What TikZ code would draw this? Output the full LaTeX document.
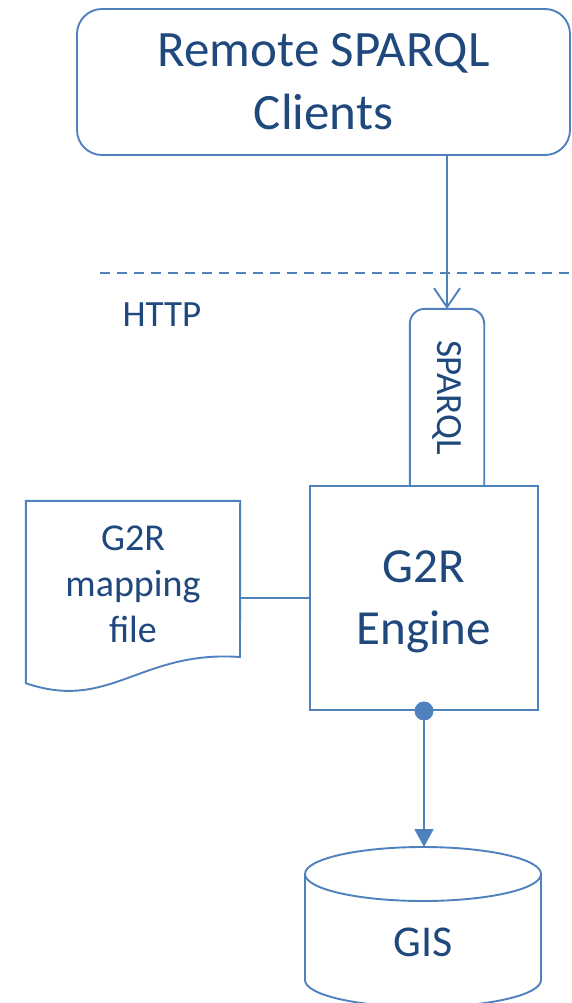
\documentclass[tikz,border=0pt]{standalone}
\usepackage{fontspec}
\setmainfont{Carlito}
\usetikzlibrary{positioning, arrows.meta}
\definecolor{boxline}{HTML}{4F81BD}
\definecolor{boxtext}{HTML}{1F497D}

\begin{document}
\begin{tikzpicture}[
    x=1pt, y=-1pt,
    every node/.style={text=boxtext, inner sep=0pt},
    wire/.style={draw=boxline, line width=1.9pt},
    client/.style={wire, rounded corners=25pt, minimum width=493pt, minimum height=146pt,
        align=center, font=\fontsize{51}{63}\selectfont},
    engine/.style={wire, fill=white, minimum width=228pt, minimum height=224pt,
        align=center, text depth=0pt, font=\fontsize{49}{62}\selectfont},
    small/.style={align=center, font=\fontsize{37}{46}\selectfont}
]
\useasboundingbox (0,0) rectangle (571,1003);

% Clients
\node[client] (clients) at (323.5,82) {Remote SPARQL\\Clients};

% HTTP boundary
\draw[wire, dash pattern=on 10pt off 7pt] (100,273) -- (571,273);
\node[small] (http) at (162,315) {HTTP};

% SPARQL endpoint and engine
\node[minimum width=74pt, minimum height=177pt] (tab) at (447,397.5)
    {\fontsize{37}{46}\selectfont\rotatebox{-90}{SPARQL}};
\draw[wire, rounded corners=15pt] (tab.south west) |- (tab.north) -| (tab.south east);
\node[engine] (g2r) at (424,598) {G2R\\Engine};
\draw[wire, -{Straight Barb[length=19pt,width=26pt]}] (tab.north |- clients.south) -- (tab.north);

% Mapping file
\node[minimum width=214pt, minimum height=182pt] (doc) at (133,592) {};
\draw[wire] (doc.south west) -- (doc.north west) -- (doc.north east) -- (240,657)
    .. controls (140,650) and (110,712) .. cycle;
\node[small, font=\fontsize{38}{46}\selectfont] (maptext) at (133,584) {G2R\\mapping\\file};
\draw[wire] (g2r.west) -- (g2r.west -| doc.east);

% GIS
\draw[wire, fill=white] (305,874) -- (305,980)
    arc[start angle=180, end angle=360, x radius=118pt, y radius=27pt] -- (541,874);
\draw[wire] (423,874) ellipse[x radius=118pt, y radius=27pt];
\coordinate (gistop) at (424,847);
\node[font=\fontsize{44}{52}\selectfont] (gis) at (423,942) {GIS};
\draw[wire, -{Triangle[length=18pt,width=19pt]}] (g2r.south) -- (gistop);
\fill[boxline] (g2r.south) circle (9.5pt);

\end{tikzpicture}
\end{document}
